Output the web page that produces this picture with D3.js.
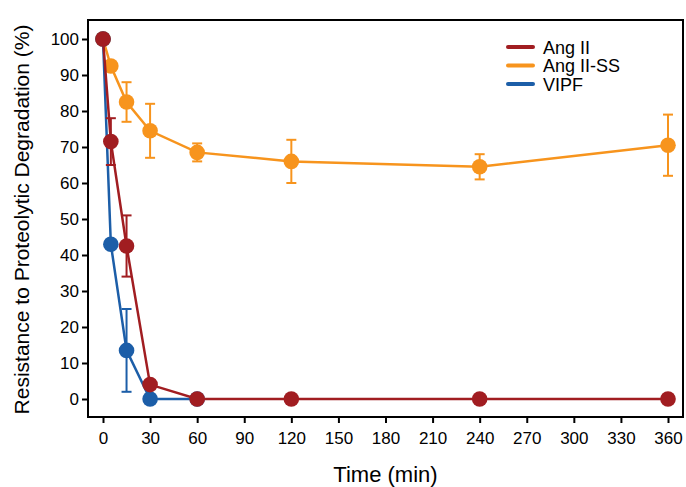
<!DOCTYPE html>
<html>
<head>
<meta charset="utf-8">
<script src="https://cdn.jsdelivr.net/npm/d3@7"></script>
<style>
  body { margin: 0; background: #fff; }
  text { font-family: "Liberation Sans", Arial, sans-serif; }
</style>
</head>
<body>
<div id="chart"></div>
<script>
// data
var seriesNames = ["Ang II", "Ang II-SS", "VIPF"];
var seriesColors = ["#a11d21", "#f7941d", "#1c5ea8"];

var angTime = [0, 5, 15, 30, 60, 120, 240, 360];
var angValue = [100, 71.5, 42.5, 4, 0, 0, 0, 0];
var angErr = [0, 6.5, 8.5, 0, 0, 0, 0, 0];

var angSSTime = [0, 5, 15, 30, 60, 120, 240, 360];
var angSSValue = [100, 92.5, 82.5, 74.5, 68.5, 66, 64.5, 70.5];
var angSSErr = [0, 0, 5.5, 7.5, 2.5, 6, 3.5, 8.5];

var vipfTime = [0, 5, 15, 30, 60];
var vipfValue = [100, 43, 13.5, 0, 0];
var vipfErr = [0, 0, 11.5, 0, 0];

var xTicks = d3.range(0, 361, 30);
var yTicks = d3.range(0, 101, 10);

var width = 686, height = 487;
var frame = { left: 88, right: 683, top: 20, bottom: 417 };

var x = d3.scaleLinear().domain([0, 360]).range([103, 668]);
var y = d3.scaleLinear().domain([0, 100]).range([399, 39]);

var svg = d3.select("#chart").append("svg")
    .attr("width", width)
    .attr("height", height);

function pack(t, v, e) {
    return t.map(function (d, i) { return { t: d, v: v[i], e: e[i] }; });
}

// drawn bottom to top: orange, blue, red
var series = [
    { name: seriesNames[1], color: seriesColors[1], data: pack(angSSTime, angSSValue, angSSErr) },
    { name: seriesNames[2], color: seriesColors[2], data: pack(vipfTime, vipfValue, vipfErr) },
    { name: seriesNames[0], color: seriesColors[0], data: pack(angTime, angValue, angErr) }
];

// frame
svg.append("rect")
    .attr("x", frame.left).attr("y", frame.top)
    .attr("width", frame.right - frame.left)
    .attr("height", frame.bottom - frame.top)
    .attr("fill", "none").attr("stroke", "#000").attr("stroke-width", 2);

// x axis
var xAxis = svg.append("g")
    .attr("transform", "translate(0," + frame.bottom + ")")
    .call(d3.axisBottom(x).tickValues(xTicks).tickSize(6).tickPadding(9));
xAxis.select(".domain").remove();
xAxis.selectAll("line").attr("stroke-width", 2);
xAxis.selectAll("text").style("font-size", "17px").style("font-family", "Liberation Sans, Arial, sans-serif").attr("fill", "#000");

// y axis
var yAxis = svg.append("g")
    .attr("transform", "translate(" + frame.left + ",0)")
    .call(d3.axisLeft(y).tickValues(yTicks).tickSize(6).tickPadding(3));
yAxis.select(".domain").remove();
yAxis.selectAll("line").attr("stroke-width", 2);
yAxis.selectAll("text").style("font-size", "17px").style("font-family", "Liberation Sans, Arial, sans-serif").attr("fill", "#000");

// axis titles
svg.append("text")
    .attr("x", (frame.left + frame.right) / 2)
    .attr("y", 482)
    .attr("text-anchor", "middle")
    .style("font-size", "22px")
    .text("Time (min)");

svg.append("text")
    .attr("transform", "translate(29," + ((frame.top + frame.bottom) / 2 + 1) + ") rotate(-90)")
    .attr("text-anchor", "middle")
    .style("font-size", "21px")
    .text("Resistance to Proteolytic Degradation (%)");

var line = d3.line()
    .x(function (d) { return x(d.t); })
    .y(function (d) { return y(d.v); });

series.forEach(function (s) {
    var g = svg.append("g");
    g.append("path")
        .datum(s.data)
        .attr("d", line)
        .attr("fill", "none")
        .attr("stroke", s.color)
        .attr("stroke-width", 2.5);

    var errs = s.data.filter(function (d) { return d.e > 0; });
    g.selectAll(".err").data(errs).enter().append("line")
        .attr("x1", function (d) { return x(d.t); })
        .attr("x2", function (d) { return x(d.t); })
        .attr("y1", function (d) { return y(d.v - d.e); })
        .attr("y2", function (d) { return y(d.v + d.e); })
        .attr("stroke", s.color).attr("stroke-width", 2);
    [-1, 1].forEach(function (sign) {
        g.selectAll(".cap" + sign).data(errs).enter().append("line")
            .attr("x1", function (d) { return x(d.t) - 5; })
            .attr("x2", function (d) { return x(d.t) + 5; })
            .attr("y1", function (d) { return y(d.v + sign * d.e); })
            .attr("y2", function (d) { return y(d.v + sign * d.e); })
            .attr("stroke", s.color).attr("stroke-width", 2);
    });

    g.selectAll("circle").data(s.data).enter().append("circle")
        .attr("cx", function (d) { return x(d.t); })
        .attr("cy", function (d) { return y(d.v); })
        .attr("r", 7.8)
        .attr("fill", s.color);
});

// legend
var legend = svg.append("g");
seriesNames.forEach(function (name, i) {
    var ly = 47 + i * 18.5;
    legend.append("line")
        .attr("x1", 508).attr("x2", 533)
        .attr("y1", ly).attr("y2", ly)
        .attr("stroke", seriesColors[i]).attr("stroke-width", 4)
        .attr("stroke-linecap", "round");
    legend.append("text")
        .attr("x", 543).attr("y", ly + 6.5)
        .style("font-size", "18px")
        .text(name);
});
</script>
</body>
</html>
